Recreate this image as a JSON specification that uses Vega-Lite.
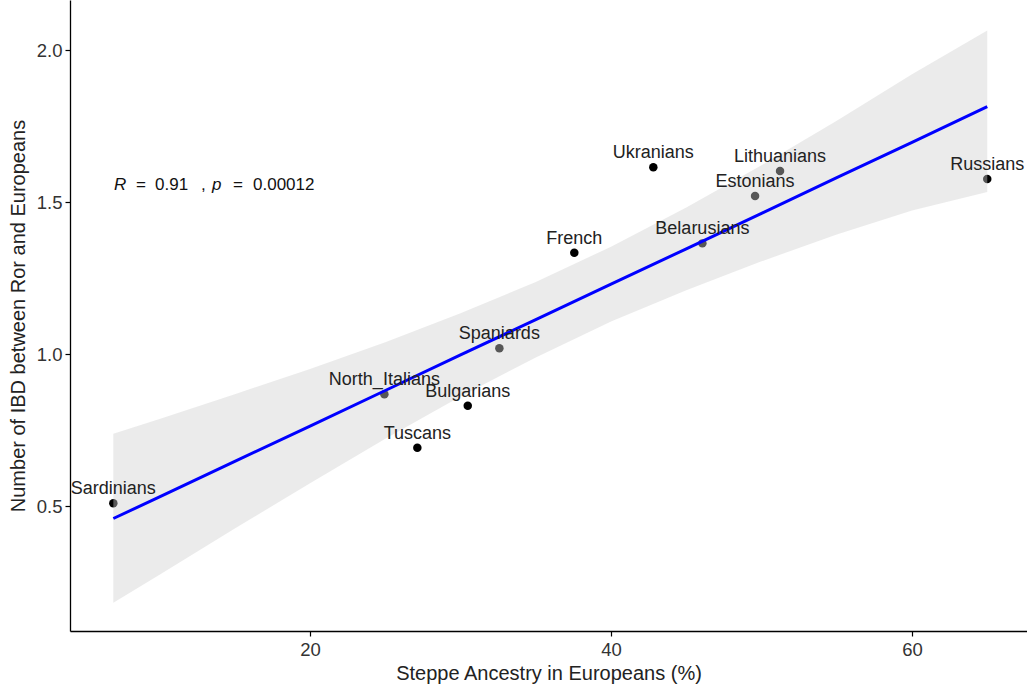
{
  "$schema": "https://vega.github.io/schema/vega-lite/v6.json",
  "width": 957,
  "height": 631,
  "autosize": "none",
  "padding": {"left": 70, "top": 0, "right": 0, "bottom": 55},
  "background": "white",
  "config": {
    "view": {"stroke": null},
    "font": "Liberation Sans",
    "axis": {
      "grid": false,
      "domainColor": "#000000",
      "domainWidth": 1.3,
      "tickColor": "#000000",
      "tickWidth": 1.2,
      "tickSize": 5,
      "labelColor": "#333333",
      "labelFontSize": 18.5,
      "labelFont": "Liberation Sans",
      "titleFont": "Liberation Sans",
      "titleFontSize": 20,
      "titleFontWeight": "normal",
      "titleColor": "#222222"
    }
  },
  "datasets": {
    "populations": [
      {"population": "Sardinians", "steppe": 6.93, "ibd": 0.509},
      {"population": "North_Italians", "steppe": 24.94, "ibd": 0.868},
      {"population": "Tuscans", "steppe": 27.13, "ibd": 0.692},
      {"population": "Bulgarians", "steppe": 30.48, "ibd": 0.830},
      {"population": "Spaniards", "steppe": 32.58, "ibd": 1.019},
      {"population": "French", "steppe": 37.56, "ibd": 1.333},
      {"population": "Ukranians", "steppe": 42.81, "ibd": 1.614},
      {"population": "Belarusians", "steppe": 46.07, "ibd": 1.364},
      {"population": "Estonians", "steppe": 49.57, "ibd": 1.520},
      {"population": "Lithuanians", "steppe": 51.23, "ibd": 1.602},
      {"population": "Russians", "steppe": 65.0, "ibd": 1.576}
    ],
    "fit": [
      {"steppe": 6.93, "lo": 0.182, "fit": 0.459, "hi": 0.738},
      {"steppe": 10, "lo": 0.274, "fit": 0.530, "hi": 0.786},
      {"steppe": 15, "lo": 0.426, "fit": 0.647, "hi": 0.868},
      {"steppe": 20, "lo": 0.575, "fit": 0.763, "hi": 0.951},
      {"steppe": 25, "lo": 0.721, "fit": 0.880, "hi": 1.039},
      {"steppe": 30, "lo": 0.860, "fit": 0.997, "hi": 1.134},
      {"steppe": 35, "lo": 0.989, "fit": 1.113, "hi": 1.237},
      {"steppe": 40, "lo": 1.107, "fit": 1.230, "hi": 1.353},
      {"steppe": 45, "lo": 1.210, "fit": 1.346, "hi": 1.482},
      {"steppe": 50, "lo": 1.305, "fit": 1.463, "hi": 1.621},
      {"steppe": 55, "lo": 1.393, "fit": 1.580, "hi": 1.767},
      {"steppe": 60, "lo": 1.472, "fit": 1.696, "hi": 1.920},
      {"steppe": 65.0, "lo": 1.533, "fit": 1.814, "hi": 2.064}
    ],
    "stats": [
      {"piece": "R", "italic": true, "steppe": 6.98, "ibd": 1.54},
      {"piece": "=", "italic": false, "steppe": 8.44, "ibd": 1.54},
      {"piece": "0.91", "italic": false, "steppe": 9.70, "ibd": 1.54},
      {"piece": ",", "italic": false, "steppe": 12.76, "ibd": 1.54},
      {"piece": "p", "italic": true, "steppe": 13.49, "ibd": 1.54},
      {"piece": "=", "italic": false, "steppe": 14.88, "ibd": 1.54},
      {"piece": "0.00012", "italic": false, "steppe": 16.21, "ibd": 1.54}
    ]
  },
  "encoding": {
    "x": {
      "field": "steppe", "type": "quantitative",
      "scale": {"domain": [4.05, 67.64], "nice": false, "zero": false},
      "axis": {"values": [20, 40, 60], "title": "Steppe Ancestry in Europeans (%)", "labelPadding": 4, "titlePadding": 5}
    }
  },
  "layer": [
    {
      "data": {"name": "populations"},
      "mark": {"type": "point", "filled": true, "size": 72, "color": "#000000", "opacity": 1},
      "encoding": {
        "y": {
          "field": "ibd", "type": "quantitative",
          "scale": {"domain": [0.089, 2.1645], "nice": false, "zero": false},
          "axis": {"values": [0.5, 1.0, 1.5, 2.0], "format": ".1f", "title": "Number of IBD between Ror and Europeans", "labelPadding": 3, "titlePadding": 8}
        }
      }
    },
    {
      "data": {"name": "fit"},
      "mark": {"type": "area", "color": "#d0d0d0", "opacity": 0.42},
      "encoding": {
        "y": {"field": "lo", "type": "quantitative", "title": "Number of IBD between Ror and Europeans"},
        "y2": {"field": "hi"}
      }
    },
    {
      "data": {"name": "fit"},
      "mark": {"type": "line", "color": "#0000ff", "strokeWidth": 3},
      "encoding": {
        "y": {"field": "fit", "type": "quantitative", "title": "Number of IBD between Ror and Europeans"}
      }
    },
    {
      "data": {"name": "populations"},
      "mark": {"type": "text", "fontSize": 18, "color": "#222222", "align": "center", "baseline": "alphabetic", "dy": -9},
      "encoding": {
        "y": {"field": "ibd", "type": "quantitative", "title": "Number of IBD between Ror and Europeans"},
        "text": {"field": "population"}
      }
    },
    {
      "data": {"name": "stats"},
      "transform": [{"filter": "datum.italic"}],
      "mark": {"type": "text", "fontSize": 17, "fontStyle": "italic", "color": "#111111", "align": "left", "baseline": "alphabetic"},
      "encoding": {
        "y": {"field": "ibd", "type": "quantitative", "title": "Number of IBD between Ror and Europeans"},
        "text": {"field": "piece"}
      }
    },
    {
      "data": {"name": "stats"},
      "transform": [{"filter": "!datum.italic"}],
      "mark": {"type": "text", "fontSize": 17, "color": "#111111", "align": "left", "baseline": "alphabetic"},
      "encoding": {
        "y": {"field": "ibd", "type": "quantitative", "title": "Number of IBD between Ror and Europeans"},
        "text": {"field": "piece"}
      }
    }
  ]
}
